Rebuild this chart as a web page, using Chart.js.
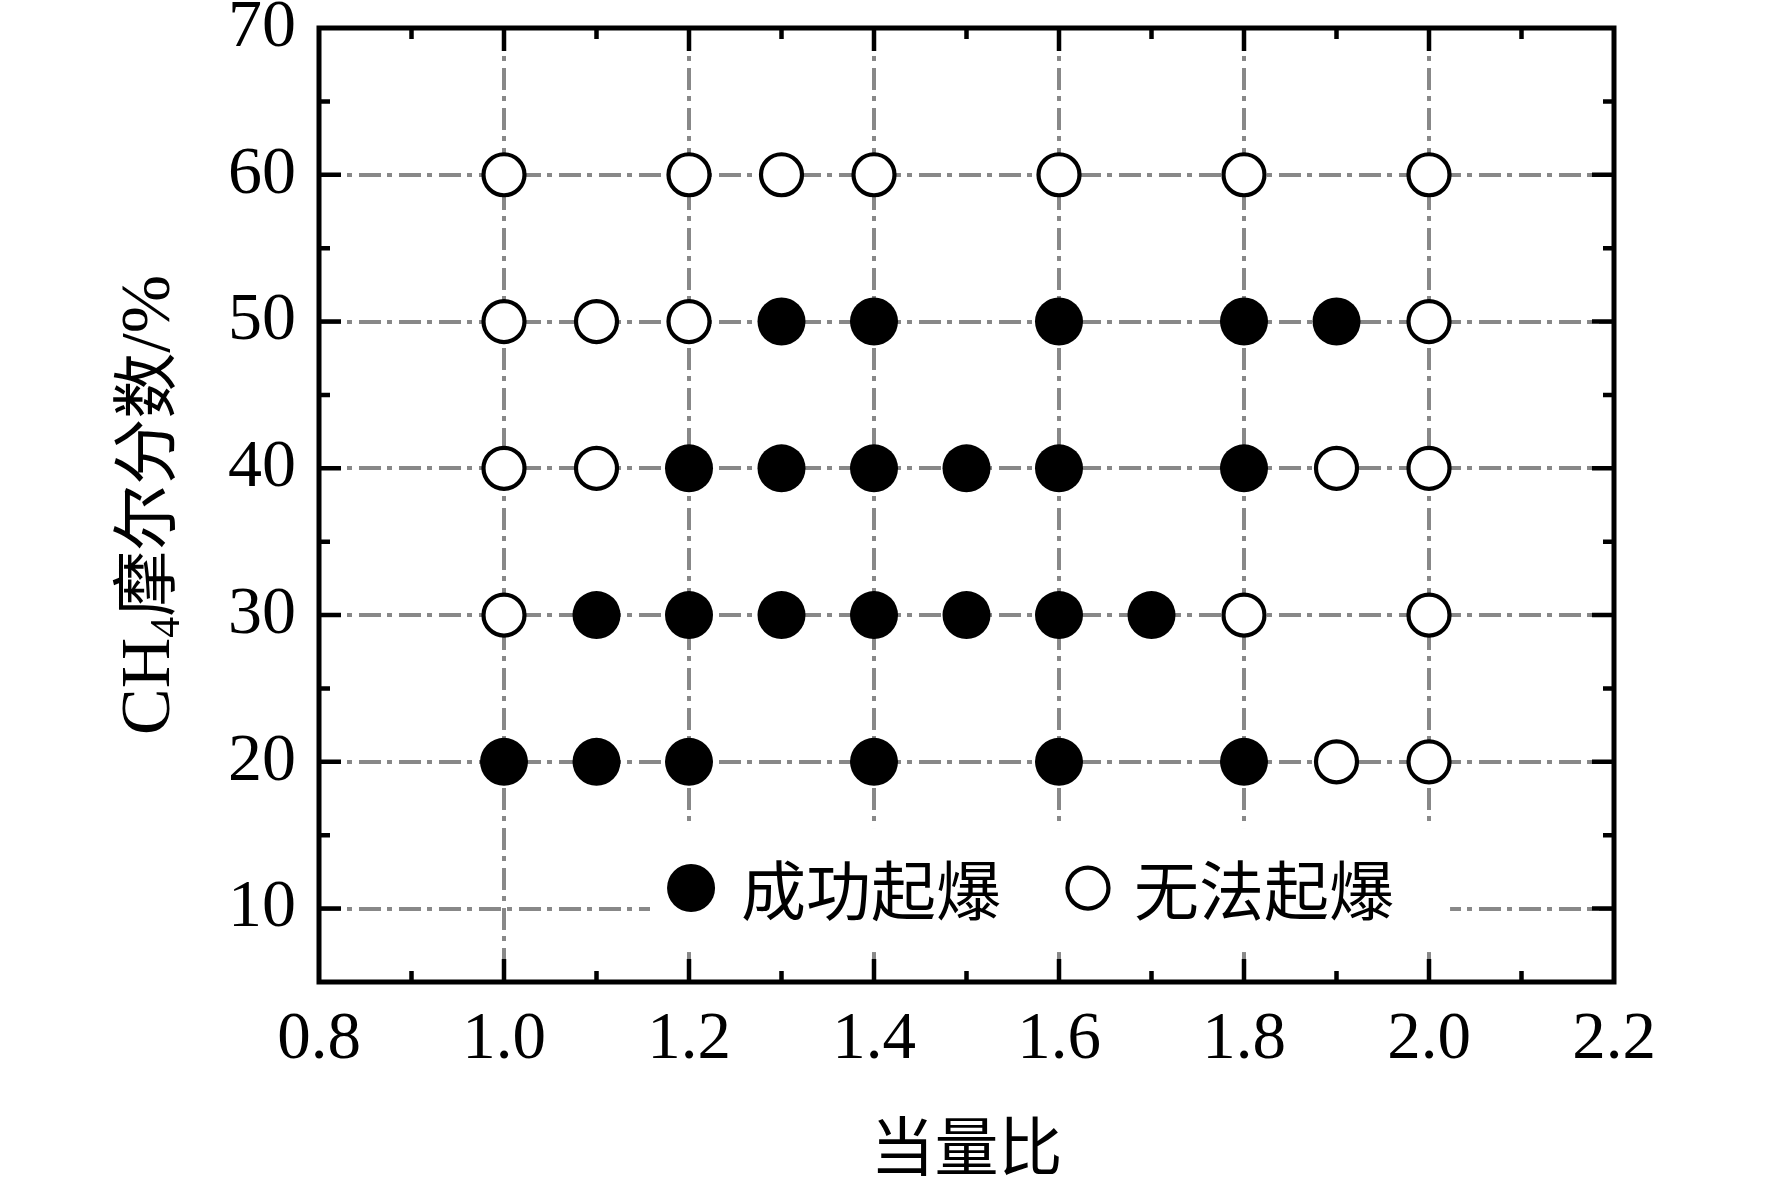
<!DOCTYPE html>
<html>
<head>
<meta charset="utf-8">
<title>CH4 起爆图</title>
<script src="https://cdn.jsdelivr.net/npm/chart.js@4.4.1/dist/chart.umd.min.js"></script>
<style>
  html, body { margin: 0; padding: 0; background: #fff; overflow: hidden; }
  #wrap { width: 1772px; height: 1188px; }
</style>
</head>
<body>
<div id="wrap"><canvas id="chart" width="1772" height="1188"></canvas></div>
<script>
/* ── Data ── */
var successX = [1.0, 1.1, 1.2, 1.4, 1.6, 1.8,
                1.1, 1.2, 1.3, 1.4, 1.5, 1.6, 1.7,
                1.2, 1.3, 1.4, 1.5, 1.6, 1.8,
                1.3, 1.4, 1.6, 1.8, 1.9];
var successY = [20, 20, 20, 20, 20, 20,
                30, 30, 30, 30, 30, 30, 30,
                40, 40, 40, 40, 40, 40,
                50, 50, 50, 50, 50];
var failX = [1.9, 2.0,
             1.0, 1.8, 2.0,
             1.0, 1.1, 1.9, 2.0,
             1.0, 1.1, 1.2, 2.0,
             1.0, 1.2, 1.3, 1.4, 1.6, 1.8, 2.0];
var failY = [20, 20,
             30, 30, 30,
             40, 40, 40, 40,
             50, 50, 50, 50,
             60, 60, 60, 60, 60, 60, 60];
var seriesLabels = ['成功起爆', '无法起爆'];
var xTitle = '当量比';
var yTitleMain = 'CH';
var yTitleSub = '4';
var yTitleRest = '摩尔分数/%';
var xRange = [0.8, 2.2];
var yRange = [5, 70];

/* ── Styling ── */
var LATIN = "'Liberation Serif', 'Times New Roman', serif";
var MIXED = "'Liberation Serif', 'Noto Sans CJK SC', serif";
var CJK = "'Noto Sans CJK SC', sans-serif";
var GRID_GREY = '#888888';
var DASH = [22, 6, 5, 7];

function toPoints(xs, ys) {
  return xs.map(function (x, i) { return { x: x, y: ys[i] }; });
}

function isMajorX(v) { return Math.round(v * 10) % 2 === 0; }
function isMajorY(v) { return Math.round(v) % 10 === 0; }
function isEdge(v, range) {
  return Math.abs(v - range[0]) < 1e-6 || Math.abs(v - range[1]) < 1e-6;
}

function gridColor(isMajor, range) {
  return function (ctx) {
    if (!ctx.tick) return 'rgba(0,0,0,0)';
    var v = ctx.tick.value;
    if (isEdge(v, range) || !isMajor(v)) return 'rgba(0,0,0,0)';
    return GRID_GREY;
  };
}

/* ── Frame + inward ticks on all four sides ── */
var framePlugin = {
  id: 'frame',
  afterDraw: function (chart) {
    var ctx = chart.ctx, a = chart.chartArea;
    var xs = chart.scales.x, ys = chart.scales.y;
    ctx.save();
    ctx.strokeStyle = '#000';
    ctx.lineWidth = 4.5;
    ctx.lineCap = 'butt';
    ctx.beginPath();
    xs.ticks.forEach(function (t) {
      var v = t.value;
      if (isEdge(v, xRange)) return;
      var px = xs.getPixelForValue(v);
      var len = isMajorX(v) ? 23 : 11;
      ctx.moveTo(px, a.bottom); ctx.lineTo(px, a.bottom - len);
      ctx.moveTo(px, a.top); ctx.lineTo(px, a.top + len);
    });
    ys.ticks.forEach(function (t) {
      var v = t.value;
      if (isEdge(v, yRange)) return;
      var py = ys.getPixelForValue(v);
      var len = isMajorY(v) ? 22 : 11;
      ctx.moveTo(a.left, py); ctx.lineTo(a.left + len, py);
      ctx.moveTo(a.right, py); ctx.lineTo(a.right - len, py);
    });
    ctx.stroke();
    ctx.lineWidth = 5;
    ctx.strokeRect(a.left, a.top, a.right - a.left, a.bottom - a.top);
    ctx.restore();
  }
};

/* ── Axis titles (y title needs a subscript) ── */
var titlesPlugin = {
  id: 'titles',
  afterDraw: function (chart) {
    var ctx = chart.ctx, a = chart.chartArea;
    ctx.save();
    ctx.fillStyle = '#000';
    ctx.textBaseline = 'middle';
    ctx.textAlign = 'center';
    ctx.font = '64px ' + CJK;
    ctx.fillText(xTitle, (a.left + a.right) / 2, 1146);

    // y title, rotated
    var mainFont = '70px ' + LATIN, subFont = '42px ' + LATIN, restFont = '66px ' + CJK;
    var tailFont = '70px ' + LATIN;
    var cjkPart = yTitleRest.replace('/%', '');
    var tailPart = yTitleRest.slice(cjkPart.length);
    ctx.font = mainFont; var w1 = ctx.measureText(yTitleMain).width;
    ctx.font = subFont; var w2 = ctx.measureText(yTitleSub).width;
    ctx.font = restFont; var w3 = ctx.measureText(cjkPart).width;
    ctx.font = tailFont; var w4 = ctx.measureText(tailPart).width;
    var total = w1 + w2 + w3 + w4;
    ctx.translate(169, (a.top + a.bottom) / 2);
    ctx.rotate(-Math.PI / 2);
    ctx.textAlign = 'left';
    ctx.textBaseline = 'alphabetic';
    var x = -total / 2;
    ctx.font = mainFont; ctx.fillText(yTitleMain, x, 0); x += w1;
    ctx.font = subFont; ctx.fillText(yTitleSub, x, 10); x += w2;
    ctx.font = restFont; ctx.fillText(cjkPart, x, 0); x += w3;
    ctx.font = tailFont; ctx.fillText(tailPart, x, 0);
    ctx.restore();
  }
};

/* ── Legend inside the plot, white box over the grid ── */
var legendPlugin = {
  id: 'insideLegend',
  afterDatasetsDraw: function (chart) {
    var ctx = chart.ctx, a = chart.chartArea;
    var w = a.right - a.left, h = a.bottom - a.top;
    var bx1 = a.left + 0.2556 * w, bx2 = a.left + 0.8734 * w;
    var by1 = a.top + 0.8386 * h, by2 = a.top + 0.9686 * h;
    var cy = a.top + 0.9015 * h;
    var markX = [a.left + 0.2873 * w, a.left + 0.5938 * w];
    var textX = [a.left + 0.3259 * w, a.left + 0.6293 * w];
    ctx.save();
    ctx.fillStyle = '#fff';
    ctx.fillRect(bx1, by1, bx2 - bx1, by2 - by1);
    chart.data.datasets.forEach(function (ds, i) {
      ctx.beginPath();
      ctx.arc(markX[i], cy, ds.pointRadius, 0, Math.PI * 2);
      ctx.fillStyle = ds.pointBackgroundColor;
      ctx.fill();
      if (ds.pointBorderWidth) {
        ctx.lineWidth = ds.pointBorderWidth;
        ctx.strokeStyle = ds.pointBorderColor;
        ctx.stroke();
      }
      ctx.fillStyle = '#000';
      ctx.font = '65px ' + CJK;
      ctx.textAlign = 'left';
      ctx.textBaseline = 'middle';
      ctx.fillText(ds.label, textX[i], cy + 2);
    });
    ctx.restore();
  }
};

new Chart(document.getElementById('chart'), {
  type: 'scatter',
  data: {
    datasets: [{
      label: seriesLabels[0],
      data: toPoints(successX, successY),
      pointRadius: 24,
      pointHoverRadius: 24,
      pointBackgroundColor: '#000',
      pointBorderColor: '#000',
      pointBorderWidth: 0
    }, {
      label: seriesLabels[1],
      data: toPoints(failX, failY),
      pointRadius: 20.5,
      pointHoverRadius: 20.5,
      pointBackgroundColor: '#fff',
      pointBorderColor: '#000',
      pointBorderWidth: 4.2
    }]
  },
  options: {
    responsive: false,
    animation: false,
    devicePixelRatio: 1,
    layout: { padding: { top: 28, right: 158, bottom: 0, left: 0 } },
    plugins: { legend: { display: false }, tooltip: { enabled: false } },
    scales: {
      x: {
        type: 'linear',
        min: xRange[0], max: xRange[1],
        afterFit: function (s) {
          s.height = 206;
          s.paddingLeft = 0; s.paddingRight = 0;
        },
        ticks: {
          stepSize: 0.1, autoSkip: false, maxRotation: 0,
          padding: 18, color: '#000',
          font: { family: LATIN, size: 67 },
          callback: function (v) { return isMajorX(v) ? Number(v).toFixed(1) : ''; }
        },
        grid: { color: gridColor(isMajorX, xRange), lineWidth: 4, drawTicks: false },
        border: { display: false, dash: DASH }
      },
      y: {
        type: 'linear',
        min: yRange[0], max: yRange[1],
        afterFit: function (s) {
          s.width = 319;
          s.paddingTop = 0; s.paddingBottom = 0;
        },
        ticks: {
          stepSize: 5, autoSkip: false,
          padding: 23, color: '#000',
          font: { family: LATIN, size: 68 },
          callback: function (v) { return isMajorY(v) ? String(v) : ''; }
        },
        grid: { color: gridColor(isMajorY, yRange), lineWidth: 4, drawTicks: false },
        border: { display: false, dash: DASH }
      }
    }
  },
  plugins: [legendPlugin, framePlugin, titlesPlugin]
});
</script>
</body>
</html>
